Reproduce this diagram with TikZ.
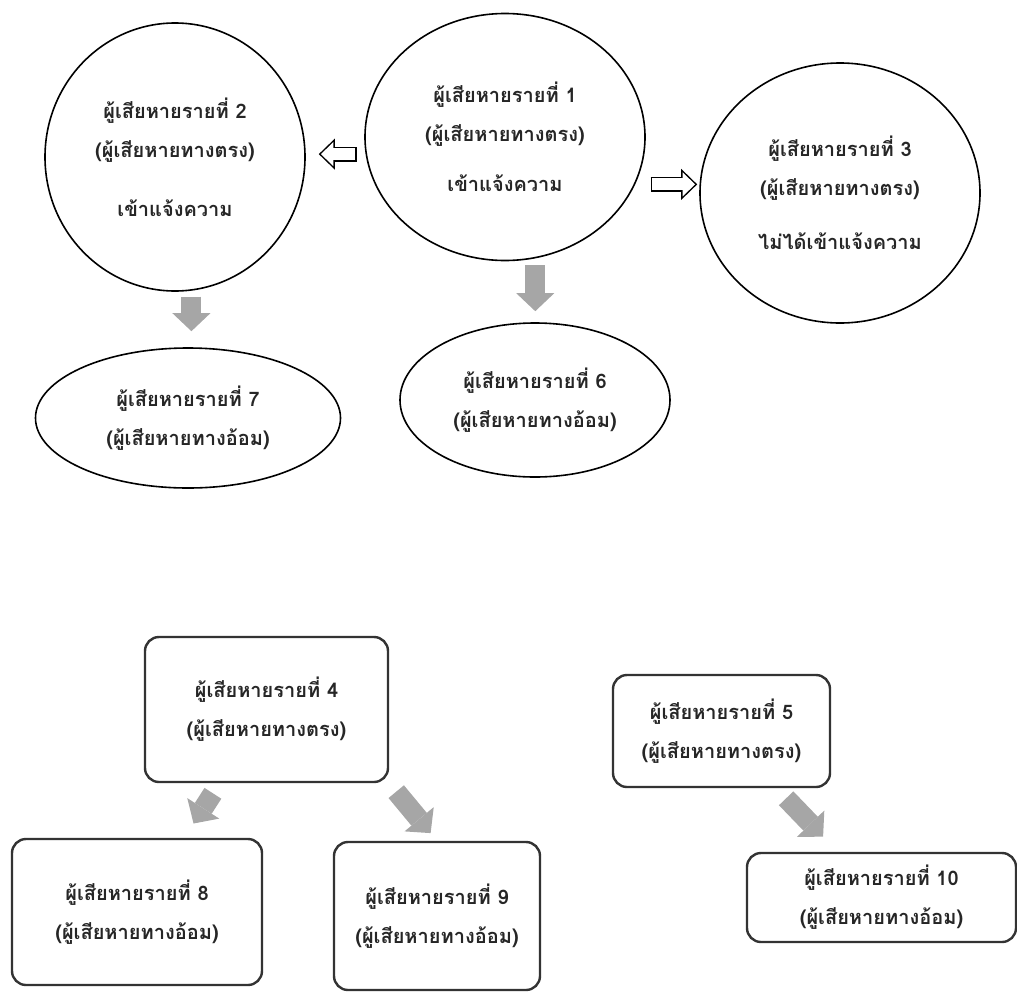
\documentclass[tikz,border=0pt]{standalone}
\usepackage{fontspec}
\newfontfamily\thaifont[Script=Thai]{Loma}
\usetikzlibrary{shapes.geometric,arrows.meta,calc}
\definecolor{arrowgray}{HTML}{A6A6A6}
\definecolor{boxline}{HTML}{333333}
\begin{document}
\begin{tikzpicture}[x=1pt, y=-1pt,
    every node/.style={align=center, inner sep=0pt, text=black!85,
      font=\thaifont\bfseries\fontsize{20}{39}\selectfont},
    victim/.style={ellipse, draw, line width=1.6pt},
    victimbox/.style={rectangle, rounded corners=14pt, draw=boxline, line width=2.4pt},
    hollow/.style 2 args={draw=black, line width=15pt, shorten <=#1, shorten >=#2,
      -{Triangle[width=31pt, length=16pt, line width=0pt]},
      postaction={draw=white, line width=12pt, shorten <=#1+1.5pt, shorten >=#2+2.2pt,
        -{Triangle[width=24pt, length=12.3pt, line width=0pt]}}},
    grayarrow/.style 2 args={draw=arrowgray, line width=20pt, shorten <=#1, shorten >=#2,
      -{Triangle[width=38pt, length=18pt, line width=0pt]}}]
        \useasboundingbox (0,0) rectangle (1017,991);
        % direct victims, top row
        \node[victim, minimum width=260pt, minimum height=268pt] (v2) at (175,157)
            {ผู้เสียหายรายที่ 2\\(ผู้เสียหายทางตรง)\\[20pt]เข้าแจ้งความ};
        \node[victim, minimum width=280pt, minimum height=247pt] (v1) at (505,137)
            {ผู้เสียหายรายที่ 1\\(ผู้เสียหายทางตรง)\\[11pt]เข้าแจ้งความ};
        \node[victim, minimum width=280pt, minimum height=260pt] (v3) at (840,193)
            {ผู้เสียหายรายที่ 3\\(ผู้เสียหายทางตรง)\\[15pt]ไม่ได้เข้าแจ้งความ};
        % indirect victims
        \node[victim, minimum width=305pt, minimum height=140pt] (v7) at (188,418)
            {ผู้เสียหายรายที่ 7\\(ผู้เสียหายทางอ้อม)};
        \node[victim, minimum width=270pt, minimum height=154pt] (v6) at (535,400)
            {ผู้เสียหายรายที่ 6\\(ผู้เสียหายทางอ้อม)};
        % boxes, bottom part
        \node[victimbox, minimum width=243pt, minimum height=145pt] (v4) at (266.5,709.5)
            {ผู้เสียหายรายที่ 4\\(ผู้เสียหายทางตรง)};
        \node[victimbox, minimum width=217pt, minimum height=112pt] (v5) at (721.5,731)
            {ผู้เสียหายรายที่ 5\\(ผู้เสียหายทางตรง)};
        \node[victimbox, minimum width=250pt, minimum height=146pt] (v8) at (137,912)
            {ผู้เสียหายรายที่ 8\\(ผู้เสียหายทางอ้อม)};
        \node[victimbox, minimum width=206pt, minimum height=148pt] (v9) at (437,916)
            {ผู้เสียหายรายที่ 9\\(ผู้เสียหายทางอ้อม)};
        \node[victimbox, minimum width=269pt, minimum height=89pt] (v10) at (881.5,897.5)
            {ผู้เสียหายรายที่ 10\\(ผู้เสียหายทางอ้อม)};
        % arrows
        \draw[hollow={9pt}{13pt}] (v1.187) -- (v1.187 -| v2.east);
        \draw[hollow={15.5pt}{2pt}] (v1.-20) -- (v1.-20 -| v3.west);
        \draw[grayarrow={6pt}{16pt}] (v2.-83) -- (v2.-83 |- v7.north);
        \draw[grayarrow={7pt}{11pt}] (v1.-76) -- (v1.-76 |- v6.north);
        \draw[grayarrow={12pt}{17pt}] (v4) -- (v8);
        \draw[grayarrow={11pt}{10pt}] (v4.south east) -- (v9.north);
        \draw[grayarrow={14pt}{21pt}] (v5) -- (v10);
\end{tikzpicture}
\end{document}
